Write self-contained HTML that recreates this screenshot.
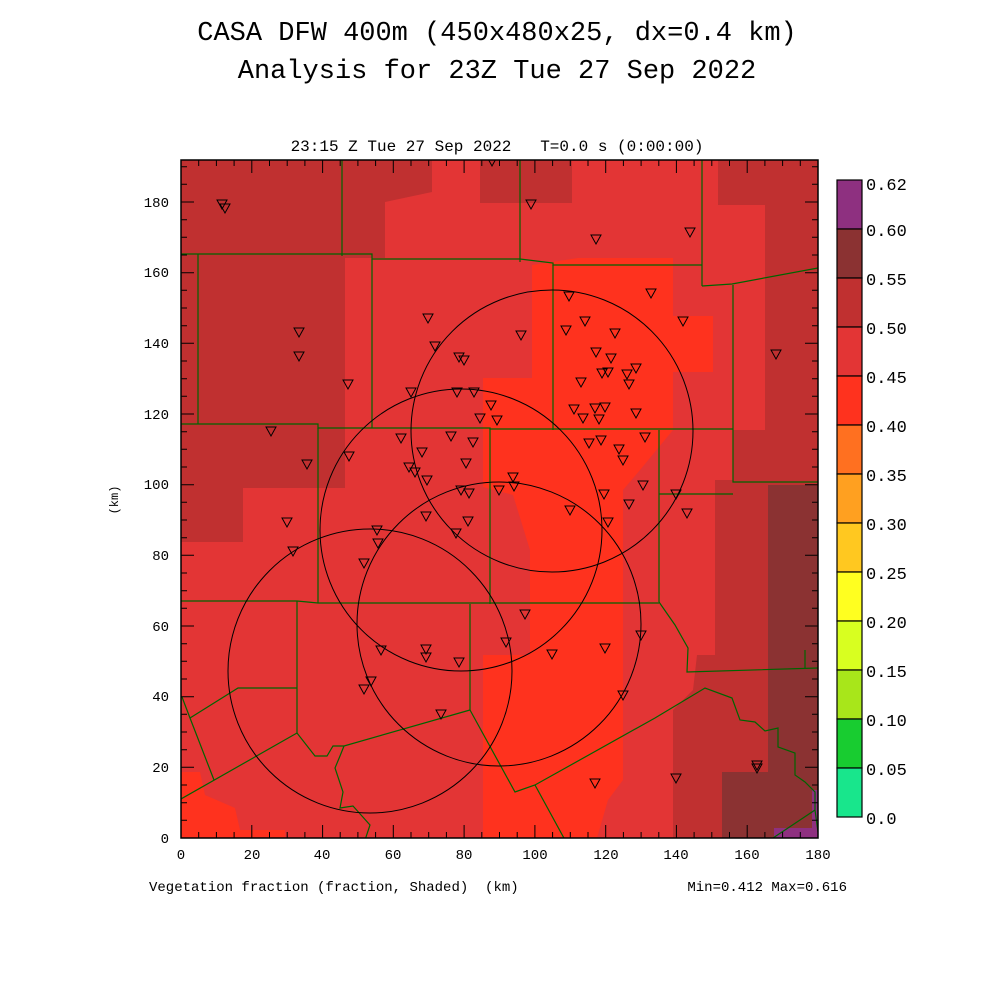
<!DOCTYPE html>
<html><head><meta charset="utf-8"><style>
body{margin:0;background:#fff;}
svg{display:block;font-family:"Liberation Sans",sans-serif;}
.m{font-family:"Liberation Mono",monospace;}
</style></head><body>
<svg width="1000" height="1000" viewBox="0 0 1000 1000" xmlns="http://www.w3.org/2000/svg">
<rect width="1000" height="1000" fill="#fff"/>
<text class="m" x="497" y="40" font-size="27" text-anchor="middle" fill="#000">CASA DFW 400m (450x480x25, dx=0.4 km)</text>
<text class="m" x="497" y="78" font-size="27" text-anchor="middle" fill="#000">Analysis for 23Z Tue 27 Sep 2022</text>
<text class="m" x="497" y="151" font-size="16" text-anchor="middle">23:15 Z Tue 27 Sep 2022&#160;&#160;&#160;T=0.0 s (0:00:00)</text>
<defs><clipPath id="c"><rect x="181" y="160" width="637" height="678"/></clipPath></defs>
<g clip-path="url(#c)">
<rect x="181" y="160" width="637" height="678" fill="#e33535"/>
<path d="M181,160 H432 V192 L385,202 V258 H345 V488 H243 V542 H181 Z" fill="#c03030"/>
<rect x="480" y="160" width="92" height="43" fill="#c03030"/>
<path d="M718,160 H818 V838 H673 V710 L693,690 L697,655 H715 V480 H733 V430 H765 V205 H718 Z" fill="#c03030"/>
<path d="M768,485 H818 V838 H722 V772 H768 Z" fill="#8b3232"/>
<path d="M774,828 H812 V790 H818 V838 H774 Z" fill="#8e3080"/>
<path d="M578,258 H673 V316 H713 V372 H673 V430 L640,470 L623,490 V780 L608,800 L597,838 H483 V655 L530,655 V550 L513,495 L483,487 V378 H532 V265 Z" fill="#ff321e"/>
<path d="M181,772 H200 L205,795 L235,808 L240,830 H285 V838 H181 Z" fill="#ff321e"/>
<g fill="none" stroke="#006400" stroke-width="1.2">
<path d="M342,160 V256"/><path d="M520,160 V262"/><path d="M702,160 V286"/>
<path d="M181,254 H372 L372,259 H520 L553,263 V265 H702"/>
<path d="M702,286 L732,284 L818,268"/>
<path d="M198,254 V424"/><path d="M372,259 V428"/><path d="M553,265 V430"/>
<path d="M181,424 H318 L318,428 H490 V429 H733"/>
<path d="M733,285 V482 H818"/><path d="M659,430 V602"/><path d="M659,494 H733"/>
<path d="M318,428 V603"/><path d="M490,428 V604"/>
<path d="M181,601 H297 L318,603 H659"/>
<path d="M659,602 L675,625 L688,648 L687,672 L818,668"/><path d="M805,650 V668"/>
<path d="M297,601 V733"/><path d="M190,718 L238,688 H297"/><path d="M182,697 L190,718 L214,780"/>
<path d="M181,799 L297,733 L315,756 L327,756 L333,746 L344,746 L470,710 V604"/>
<path d="M470,710 L515,792 L535,785 L655,718 L705,688 L732,698 L740,720 L755,722 L765,731 L778,728 L778,747 L795,753 L795,775 L805,782 L815,792 L815,810 L818,832"/>
<path d="M815,810 L770,840"/>
<path d="M535,785 L565,840"/>
<path d="M344,746 L340,756 L335,768 L343,792 L340,808 L353,806 L370,825 L365,840"/>
</g>
<g fill="none" stroke="#000" stroke-width="1">
<circle cx="552" cy="431" r="141"/>
<circle cx="461" cy="530" r="141"/>
<circle cx="499" cy="624" r="142"/>
<circle cx="370" cy="671" r="142"/>
</g>
<g fill="none" stroke="#000" stroke-width="1">
<path d="M-5,-4 H5 L0,5 Z" transform="translate(222,204)"/>
<path d="M-5,-4 H5 L0,5 Z" transform="translate(225,208)"/>
<path d="M-5,-4 H5 L0,5 Z" transform="translate(299,332)"/>
<path d="M-5,-4 H5 L0,5 Z" transform="translate(299,356)"/>
<path d="M-5,-4 H5 L0,5 Z" transform="translate(271,431)"/>
<path d="M-5,-4 H5 L0,5 Z" transform="translate(307,464)"/>
<path d="M-5,-4 H5 L0,5 Z" transform="translate(287,522)"/>
<path d="M-5,-4 H5 L0,5 Z" transform="translate(293,551)"/>
<path d="M-5,-4 H5 L0,5 Z" transform="translate(348,384)"/>
<path d="M-5,-4 H5 L0,5 Z" transform="translate(349,456)"/>
<path d="M-5,-4 H5 L0,5 Z" transform="translate(401,438)"/>
<path d="M-5,-4 H5 L0,5 Z" transform="translate(409,467)"/>
<path d="M-5,-4 H5 L0,5 Z" transform="translate(415,472)"/>
<path d="M-5,-4 H5 L0,5 Z" transform="translate(422,452)"/>
<path d="M-5,-4 H5 L0,5 Z" transform="translate(427,480)"/>
<path d="M-5,-4 H5 L0,5 Z" transform="translate(428,318)"/>
<path d="M-5,-4 H5 L0,5 Z" transform="translate(435,346)"/>
<path d="M-5,-4 H5 L0,5 Z" transform="translate(411,392)"/>
<path d="M-5,-4 H5 L0,5 Z" transform="translate(426,516)"/>
<path d="M-5,-4 H5 L0,5 Z" transform="translate(451,436)"/>
<path d="M-5,-4 H5 L0,5 Z" transform="translate(459,357)"/>
<path d="M-5,-4 H5 L0,5 Z" transform="translate(464,360)"/>
<path d="M-5,-4 H5 L0,5 Z" transform="translate(457,392)"/>
<path d="M-5,-4 H5 L0,5 Z" transform="translate(474,392)"/>
<path d="M-5,-4 H5 L0,5 Z" transform="translate(466,463)"/>
<path d="M-5,-4 H5 L0,5 Z" transform="translate(461,490)"/>
<path d="M-5,-4 H5 L0,5 Z" transform="translate(469,493)"/>
<path d="M-5,-4 H5 L0,5 Z" transform="translate(468,521)"/>
<path d="M-5,-4 H5 L0,5 Z" transform="translate(456,533)"/>
<path d="M-5,-4 H5 L0,5 Z" transform="translate(480,418)"/>
<path d="M-5,-4 H5 L0,5 Z" transform="translate(491,405)"/>
<path d="M-5,-4 H5 L0,5 Z" transform="translate(497,420)"/>
<path d="M-5,-4 H5 L0,5 Z" transform="translate(492,161)"/>
<path d="M-5,-4 H5 L0,5 Z" transform="translate(531,204)"/>
<path d="M-5,-4 H5 L0,5 Z" transform="translate(521,335)"/>
<path d="M-5,-4 H5 L0,5 Z" transform="translate(513,477)"/>
<path d="M-5,-4 H5 L0,5 Z" transform="translate(514,486)"/>
<path d="M-5,-4 H5 L0,5 Z" transform="translate(499,490)"/>
<path d="M-5,-4 H5 L0,5 Z" transform="translate(473,442)"/>
<path d="M-5,-4 H5 L0,5 Z" transform="translate(364,563)"/>
<path d="M-5,-4 H5 L0,5 Z" transform="translate(377,530)"/>
<path d="M-5,-4 H5 L0,5 Z" transform="translate(378,543)"/>
<path d="M-5,-4 H5 L0,5 Z" transform="translate(381,650)"/>
<path d="M-5,-4 H5 L0,5 Z" transform="translate(371,681)"/>
<path d="M-5,-4 H5 L0,5 Z" transform="translate(364,689)"/>
<path d="M-5,-4 H5 L0,5 Z" transform="translate(426,649)"/>
<path d="M-5,-4 H5 L0,5 Z" transform="translate(426,657)"/>
<path d="M-5,-4 H5 L0,5 Z" transform="translate(459,662)"/>
<path d="M-5,-4 H5 L0,5 Z" transform="translate(441,714)"/>
<path d="M-5,-4 H5 L0,5 Z" transform="translate(506,642)"/>
<path d="M-5,-4 H5 L0,5 Z" transform="translate(525,614)"/>
<path d="M-5,-4 H5 L0,5 Z" transform="translate(552,654)"/>
<path d="M-5,-4 H5 L0,5 Z" transform="translate(596,239)"/>
<path d="M-5,-4 H5 L0,5 Z" transform="translate(690,232)"/>
<path d="M-5,-4 H5 L0,5 Z" transform="translate(569,296)"/>
<path d="M-5,-4 H5 L0,5 Z" transform="translate(585,321)"/>
<path d="M-5,-4 H5 L0,5 Z" transform="translate(566,330)"/>
<path d="M-5,-4 H5 L0,5 Z" transform="translate(615,333)"/>
<path d="M-5,-4 H5 L0,5 Z" transform="translate(596,352)"/>
<path d="M-5,-4 H5 L0,5 Z" transform="translate(581,382)"/>
<path d="M-5,-4 H5 L0,5 Z" transform="translate(611,358)"/>
<path d="M-5,-4 H5 L0,5 Z" transform="translate(608,372)"/>
<path d="M-5,-4 H5 L0,5 Z" transform="translate(602,373)"/>
<path d="M-5,-4 H5 L0,5 Z" transform="translate(627,374)"/>
<path d="M-5,-4 H5 L0,5 Z" transform="translate(629,384)"/>
<path d="M-5,-4 H5 L0,5 Z" transform="translate(636,368)"/>
<path d="M-5,-4 H5 L0,5 Z" transform="translate(636,413)"/>
<path d="M-5,-4 H5 L0,5 Z" transform="translate(574,409)"/>
<path d="M-5,-4 H5 L0,5 Z" transform="translate(583,418)"/>
<path d="M-5,-4 H5 L0,5 Z" transform="translate(595,408)"/>
<path d="M-5,-4 H5 L0,5 Z" transform="translate(599,419)"/>
<path d="M-5,-4 H5 L0,5 Z" transform="translate(605,407)"/>
<path d="M-5,-4 H5 L0,5 Z" transform="translate(589,443)"/>
<path d="M-5,-4 H5 L0,5 Z" transform="translate(601,440)"/>
<path d="M-5,-4 H5 L0,5 Z" transform="translate(619,449)"/>
<path d="M-5,-4 H5 L0,5 Z" transform="translate(623,460)"/>
<path d="M-5,-4 H5 L0,5 Z" transform="translate(645,437)"/>
<path d="M-5,-4 H5 L0,5 Z" transform="translate(604,494)"/>
<path d="M-5,-4 H5 L0,5 Z" transform="translate(608,522)"/>
<path d="M-5,-4 H5 L0,5 Z" transform="translate(570,510)"/>
<path d="M-5,-4 H5 L0,5 Z" transform="translate(643,485)"/>
<path d="M-5,-4 H5 L0,5 Z" transform="translate(629,504)"/>
<path d="M-5,-4 H5 L0,5 Z" transform="translate(676,494)"/>
<path d="M-5,-4 H5 L0,5 Z" transform="translate(687,513)"/>
<path d="M-5,-4 H5 L0,5 Z" transform="translate(651,293)"/>
<path d="M-5,-4 H5 L0,5 Z" transform="translate(683,321)"/>
<path d="M-5,-4 H5 L0,5 Z" transform="translate(776,354)"/>
<path d="M-5,-4 H5 L0,5 Z" transform="translate(641,635)"/>
<path d="M-5,-4 H5 L0,5 Z" transform="translate(623,695)"/>
<path d="M-5,-4 H5 L0,5 Z" transform="translate(595,783)"/>
<path d="M-5,-4 H5 L0,5 Z" transform="translate(605,648)"/>
<path d="M-5,-4 H5 L0,5 Z" transform="translate(676,778)"/>
<path d="M-5,-4 H5 L0,5 Z" transform="translate(757,765)"/>
<path d="M-5,-4 H5 L0,5 Z" transform="translate(757,768)"/>
</g>
</g>
<rect x="181" y="160" width="637" height="678" fill="none" stroke="#000" stroke-width="1.5"/>
<g stroke="#000" stroke-width="1">
<path id="xt" d="M181,838 v-13 M198.7,838 v-6 M216.4,838 v-6 M234.1,838 v-6 M251.8,838 v-13 M269.5,838 v-6 M287.2,838 v-6 M304.9,838 v-6 M322.6,838 v-13 M340.2,838 v-6 M357.9,838 v-6 M375.6,838 v-6 M393.3,838 v-13 M411,838 v-6 M428.7,838 v-6 M446.4,838 v-6 M464.1,838 v-13 M481.8,838 v-6 M499.5,838 v-6 M517.2,838 v-6 M534.9,838 v-13 M552.6,838 v-6 M570.3,838 v-6 M588,838 v-6 M605.7,838 v-13 M623.4,838 v-6 M641.1,838 v-6 M658.8,838 v-6 M676.4,838 v-13 M694.1,838 v-6 M711.8,838 v-6 M729.5,838 v-6 M747.2,838 v-13 M764.9,838 v-6 M782.6,838 v-6 M800.3,838 v-6"/>
<use href="#xt" transform="translate(0,998) scale(1,-1)"/>
<path id="yt" d="M181,838 h13 M181,820.3 h6 M181,802.7 h6 M181,785 h6 M181,767.3 h13 M181,749.7 h6 M181,732 h6 M181,714.3 h6 M181,696.7 h13 M181,679 h6 M181,661.3 h6 M181,643.7 h6 M181,626 h13 M181,608.3 h6 M181,590.7 h6 M181,573 h6 M181,555.3 h13 M181,537.7 h6 M181,520 h6 M181,502.3 h6 M181,484.7 h13 M181,467 h6 M181,449.3 h6 M181,431.7 h6 M181,414 h13 M181,396.3 h6 M181,378.7 h6 M181,361 h6 M181,343.3 h13 M181,325.7 h6 M181,308 h6 M181,290.3 h6 M181,272.7 h13 M181,255 h6 M181,237.3 h6 M181,219.7 h6 M181,202 h13 M181,184.3 h6 M181,166.7 h6"/>
<use href="#yt" transform="translate(999,0) scale(-1,1)"/>
</g>
<g class="m" font-size="14" text-anchor="middle">
<text x="181" y="859">0</text><text x="252" y="859">20</text><text x="322" y="859">40</text><text x="393" y="859">60</text><text x="464" y="859">80</text><text x="535" y="859">100</text><text x="606" y="859">120</text><text x="676" y="859">140</text><text x="747" y="859">160</text><text x="818" y="859">180</text>
</g>
<g class="m" font-size="14" text-anchor="end">
<text x="169" y="843">0</text><text x="169" y="772">20</text><text x="169" y="701">40</text><text x="169" y="631">60</text><text x="169" y="560">80</text><text x="169" y="489">100</text><text x="169" y="419">120</text><text x="169" y="348">140</text><text x="169" y="277">160</text><text x="169" y="207">180</text>
</g>
<text class="m" x="118" y="500" font-size="12" text-anchor="middle" transform="rotate(-90 118 500)">(km)</text>
<text class="m" x="149" y="891" font-size="14">Vegetation fraction (fraction, Shaded)&#160;&#160;(km)</text>
<text class="m" x="847" y="891" font-size="14" text-anchor="end">Min=0.412 Max=0.616</text>
<g stroke="#000" stroke-width="1.2">
<rect x="837" y="180" width="25" height="49" fill="#8e3080"/>
<rect x="837" y="229" width="25" height="49" fill="#8b3232"/>
<rect x="837" y="278" width="25" height="49" fill="#c03030"/>
<rect x="837" y="327" width="25" height="49" fill="#e33535"/>
<rect x="837" y="376" width="25" height="49" fill="#ff321e"/>
<rect x="837" y="425" width="25" height="49" fill="#ff7020"/>
<rect x="837" y="474" width="25" height="49" fill="#ffa020"/>
<rect x="837" y="523" width="25" height="49" fill="#ffc820"/>
<rect x="837" y="572" width="25" height="49" fill="#ffff20"/>
<rect x="837" y="621" width="25" height="49" fill="#d8ff20"/>
<rect x="837" y="670" width="25" height="49" fill="#a8e61a"/>
<rect x="837" y="719" width="25" height="49" fill="#18cc30"/>
<rect x="837" y="768" width="25" height="49" fill="#18e68c"/>
</g>
<g class="m" font-size="17">
<text x="866" y="190">0.62</text><text x="866" y="236">0.60</text><text x="866" y="285">0.55</text><text x="866" y="334">0.50</text><text x="866" y="383">0.45</text><text x="866" y="432">0.40</text><text x="866" y="481">0.35</text><text x="866" y="530">0.30</text><text x="866" y="579">0.25</text><text x="866" y="628">0.20</text><text x="866" y="677">0.15</text><text x="866" y="726">0.10</text><text x="866" y="775">0.05</text><text x="866" y="824">0.0</text>
</g>
</svg>
</body></html>
